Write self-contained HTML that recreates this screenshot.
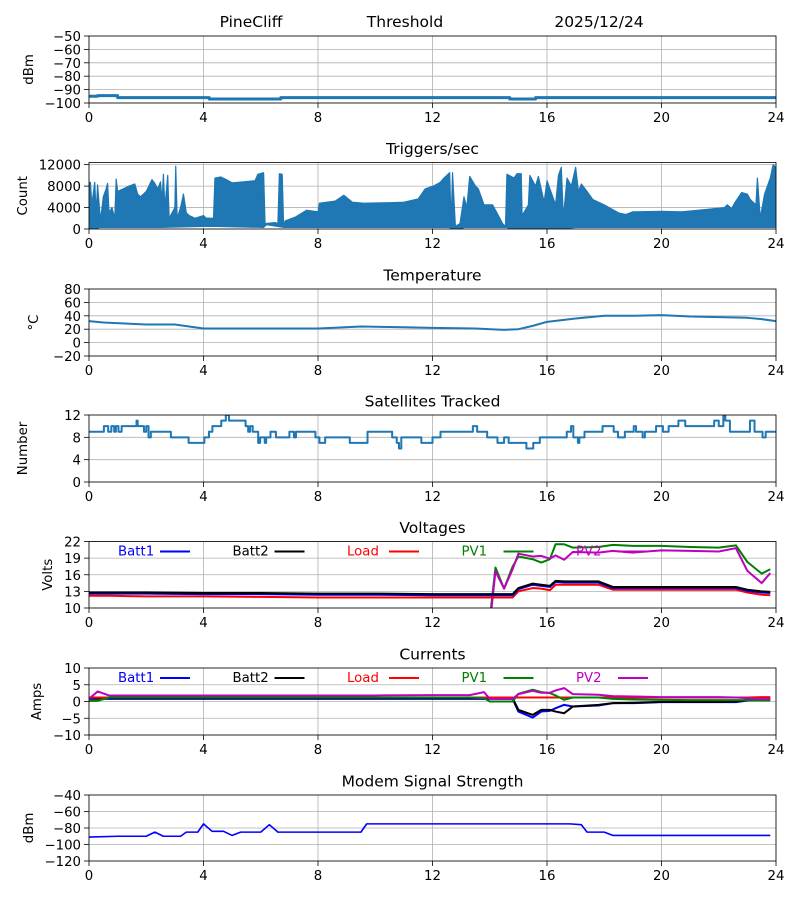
<!DOCTYPE html>
<html><head><meta charset="utf-8"><style>
body{margin:0;background:#fff}
svg{display:block;font-family:"DejaVu Sans","Liberation Sans",sans-serif}
</style></head><body>
<svg id="fig" width="800" height="900" viewBox="0 0 800 900"></svg>
<script>
// ---- data ----
const sigT=[0,0.3,0.8,1,4,4.2,6.5,6.7,14.5,14.7,15.4,15.6,24];
const sigV=[-95,-94.5,-94.5,-96,-96,-97,-97,-96,-96,-97,-97,-96,-96];
const trigT=[0,0.05,0.1,0.2,0.25,0.3,0.4,0.5,0.6,0.65,0.7,0.8,0.9,0.95,1.0,1.2,1.4,1.5,1.6,1.7,1.8,2.0,2.2,2.3,2.4,2.5,2.55,2.6,2.65,2.75,2.8,3.0,3.03,3.08,3.2,3.3,3.4,3.5,3.7,4.0,4.1,4.35,4.4,4.6,4.8,5.0,5.4,5.8,5.9,6.1,6.15,6.5,6.6,6.65,6.75,6.8,6.85,7.2,7.6,8.0,8.05,8.6,8.9,9.2,9.6,10.5,11.0,11.5,11.75,12.03,12.27,12.4,12.6,12.65,12.7,12.8,12.96,13.1,13.2,13.3,13.5,13.6,13.8,14.1,14.3,14.45,14.55,14.6,14.85,14.95,15.1,15.13,15.35,15.4,15.6,15.7,15.9,16.0,16.3,16.4,16.5,16.57,16.7,16.85,17.0,17.1,17.2,17.4,17.6,18.0,18.5,18.75,19.0,20.0,20.7,21.3,22.2,22.3,22.45,22.55,22.8,23.0,23.1,23.3,23.35,23.45,23.6,23.8,23.9,24.0];
const trigHi=[8700,8700,4500,8700,3000,8200,1500,6000,7500,8500,3000,4000,2000,9300,7000,7500,8000,8200,8400,6500,6000,7000,9200,8500,7500,8800,5000,10200,4000,10000,2000,4000,11700,2000,4000,6500,3000,2500,2000,2500,2000,2000,9500,9700,9200,8600,8800,9000,10200,10500,1000,1200,1000,10300,10200,300,1500,2200,3500,3200,4800,5200,6300,5000,4800,4900,5000,5600,7500,8000,8700,9500,10500,800,10500,500,1000,6000,4000,9800,8000,7500,4500,4500,2500,1000,500,10200,9500,10300,10300,2500,4500,10000,8000,9800,5000,9000,4500,10000,11500,2000,9500,8000,11500,7000,8400,7000,5500,4500,3000,2700,3200,3300,3200,3500,4000,4500,3800,4800,6800,6500,5500,4500,9500,2000,6500,9500,12000,11500];
const trigLoT=[0,0.3,0.35,2.5,4.2,6.1,6.2,6.8,7,12.6,12.65,13,13.1,14.6,14.7,16.5,17,24];
const trigLoV=[0,0,300,300,500,300,800,300,300,300,0,0,300,300,0,0,300,300];
const tempT=[0,0.5,2,3,3.5,4,8,8.5,9.5,11,12,13.5,14.5,15,15.5,16,17,18,19,20,21,22,23,23.5,24];
const tempV=[32,30,27,27,24,21,21,22,24,23,22,21,19,20,25,31,36,40,40,41,39,38,37,35,32];
const satT=[0,0.52,0.67,0.78,0.88,0.94,1.03,1.14,1.66,1.70,1.92,2.0,2.08,2.16,2.86,3.48,4.03,4.19,4.31,4.62,4.78,4.89,4.97,5.47,5.56,5.63,5.72,5.91,5.98,6.14,6.19,6.34,6.53,7.0,7.16,7.23,7.91,8.05,8.25,9.11,9.73,10.59,10.75,10.83,10.91,11.61,12.0,12.28,13.41,13.56,13.91,14.27,14.5,14.66,15.28,15.52,15.75,16.69,16.84,16.92,17.08,17.13,17.31,17.94,18.33,18.48,18.72,19.03,19.11,19.34,19.42,19.81,20.05,20.25,20.59,20.83,21.84,22.0,22.16,22.23,22.39,23.09,23.25,23.53,23.64,24];
const satV=[9,10,9,10,9,10,9,10,11,10,9,10,8,9,8,7,8,9,10,11,12,11,11,10,9,10,9,7,8,7,8,9,8,9,8,9,8,7,8,7,9,8,7,6,8,7,8,9,10,9,8,7,8,7,6,7,8,9,10,8,7,8,9,10,9,8,9,10,9,8,9,10,9,10,11,10,11,10,12,11,9,11,9,8,9,9];
const pT=[0,0.3,0.7,2,4,6,8,10,12,13.3,13.8,14.0,14.2,14.5,14.8,15.0,15.5,15.8,16.1,16.3,16.6,16.9,17.8,18.3,19,20,21,22,22.6,23,23.5,23.8];
const batt1V=[12.6,12.6,12.6,12.6,12.5,12.5,12.4,12.4,12.3,12.3,12.3,12.3,12.3,12.3,12.3,13.4,14.2,14.0,13.8,14.7,14.6,14.6,14.6,13.6,13.6,13.6,13.6,13.6,13.6,13.1,12.8,12.7];
const batt2V=[12.8,12.8,12.8,12.8,12.7,12.7,12.6,12.6,12.5,12.5,12.5,12.5,12.5,12.5,12.5,13.6,14.4,14.2,14.0,14.9,14.8,14.8,14.8,13.8,13.8,13.8,13.8,13.8,13.8,13.3,13.0,12.9];
const loadV=[12.2,12.2,12.2,12.1,12.1,12.0,11.9,11.9,11.9,11.9,11.9,11.9,11.9,11.9,11.9,13.0,13.6,13.5,13.2,14.2,14.2,14.2,14.2,13.3,13.3,13.3,13.3,13.3,13.3,12.8,12.4,12.3];
const pv1V=[0,0,0,0,0,0,0,0,0,0,0,8,17.3,13.5,17.5,19.3,18.8,18.2,18.8,21.5,21.5,20.9,21.0,21.4,21.2,21.2,21.0,20.9,21.3,18.3,16.2,17.0];
const pv2V=[0,0,0,0,0,0,0,0,0,0,0,7,16.6,13.5,17,19.8,19.3,19.4,18.9,19.5,18.7,20.1,20.0,20.3,20.0,20.4,20.3,20.2,20.8,16.7,14.5,16.3];
const batt1I=[0.8,0.8,0.8,0.8,0.8,0.8,0.8,0.8,0.8,0.8,0.8,0.8,0.8,0.8,0.8,-3.0,-4.8,-3.0,-2.8,-2.0,-1.0,-1.5,-1.2,-0.5,-0.5,-0.2,-0.2,-0.2,-0.2,0.3,0.5,0.6];
const batt2I=[1.0,1.0,1.0,1.0,1.0,1.0,1.0,1.0,1.0,1.0,1.0,1.0,1.0,1.0,1.0,-2.5,-4.0,-2.5,-2.5,-3.0,-3.5,-1.5,-1.0,-0.5,-0.4,-0.1,-0.1,-0.1,0.0,0.5,0.9,1.1];
const loadI=[1.2,1.2,1.2,1.2,1.2,1.2,1.2,1.2,1.2,1.2,1.2,1.2,1.2,1.2,1.2,1.2,1.2,1.2,1.2,1.2,1.2,1.2,1.2,1.2,1.2,1.2,1.2,1.2,1.2,1.2,1.3,1.3];
const pv1I=[0.2,0.2,1.2,1.2,1.2,1.2,1.2,1.2,1.2,1.2,1.0,0,0,0,0,2.3,3.5,2.8,2.5,1.8,0.5,1.2,1.2,0.8,0.6,0.5,0.4,0.4,0.4,0.4,0.3,0.3];
const pv2I=[0.8,3.0,1.8,1.8,1.8,1.8,1.8,1.8,1.9,1.9,2.8,0.8,0.8,0.8,0.8,2.2,3.2,2.6,2.6,3.3,4.0,2.2,2.0,1.6,1.5,1.3,1.3,1.3,1.2,1.0,0.8,0.8];
const modT=[0,1,2,2.3,2.6,3.2,3.4,3.8,4.0,4.3,4.7,5,5.3,6,6.3,6.6,9.5,9.7,16.8,17.2,17.4,18,18.3,23.8];
const modV=[-91,-90,-90,-85,-90,-90,-85,-85,-75,-84,-84,-89,-85,-85,-76,-85,-85,-75,-75,-76,-85,-85,-89,-89];
const xTicks=[0,4,8,12,16,20,24];
const legendNames=["Batt1","Batt2","Load","PV1","PV2"];
const legendColors=["#0000ff","#000000","#ff0000","#008000","#bf00bf"];

// ---- drawing ----
const NS="http://www.w3.org/2000/svg";
const svg=document.getElementById('fig');
const X0=89,X1=776;
function el(tag,attrs,parent){const e=document.createElementNS(NS,tag);for(const k in attrs)e.setAttribute(k,attrs[k]);(parent||svg).appendChild(e);return e;}
function txt(s,x,y,attrs,parent){const e=el('text',Object.assign({x:x,y:y,'font-size':13.3,fill:'#000'},attrs),parent);e.textContent=s;return e;}
const sx=t=>X0+(X1-X0)*t/24;

function panel(name,top,h,ymin,ymax,yTicks,title,ylabel,ylabX){
  const g=el('g',{});
  
  
  const sy=v=>top+h-(v-ymin)/(ymax-ymin)*h;
  const clipId='clip-'+name;
  const cp=el('clipPath',{id:clipId},g);el('rect',{x:X0,y:top,width:X1-X0,height:h},cp);
  const grid=el('g',{stroke:'#b0b0b0','stroke-width':0.8},g);
  
  xTicks.forEach(t=>el('line',{x1:sx(t),x2:sx(t),y1:top,y2:top+h},grid));
  yTicks.forEach(v=>el('line',{x1:X0,x2:X1,y1:sy(v),y2:sy(v)},grid));
  const xa=el('g',{},g);
  xTicks.forEach(t=>{el('line',{x1:sx(t),x2:sx(t),y1:top+h,y2:top+h+5,stroke:'#000','stroke-width':0.8},xa);
    txt(String(t),sx(t),top+h+19,{'text-anchor':'middle'},xa);});
  const ya=el('g',{},g);
  yTicks.forEach(v=>{el('line',{x1:X0-5,x2:X0,y1:sy(v),y2:sy(v),stroke:'#000','stroke-width':0.8},ya);
    txt(String(v).replace('-','\u2212'),X0-8,sy(v)+5,{'text-anchor':'end'},ya);});
  if(title){const tt=txt(title,(X0+X1)/2,top-8.5,{'text-anchor':'middle','font-size':15.5},g);
    }
  const yl=txt(ylabel,0,0,{'text-anchor':'middle',transform:`translate(${ylabX},${top+h/2}) rotate(-90)`},g);
  
  const plot=el('g',{'clip-path':`url(#${clipId})`},g);
  el('rect',{x:X0,y:top,width:X1-X0,height:h,fill:'none',stroke:'#000','stroke-width':0.8},g);
  return {sy,plot,g,top};
}
function line(p,T,V,color,w,nm,step){
  let d='';
  T.forEach((t,i)=>{const x=sx(t),y=p.sy(V[i]);
    if(i===0)d+=`M${x},${y}`;else if(step)d+=`H${x}V${y}`;else d+=`L${x},${y}`;});
  const e=el('path',{d:d,fill:'none',stroke:color,'stroke-width':w,'stroke-linejoin':'round'},p.plot);
  
  
  return e;
}
function legend(p,name){
  legendNames.forEach((n,i)=>{
    const lg=el('g',{},p.g);
    
    
    const bx=118+i*114.5;
    txt(n,bx,p.top+14,{fill:legendColors[i]},lg);
    el('line',{x1:bx+42,x2:bx+72,y1:p.top+10,y2:p.top+10,stroke:legendColors[i],'stroke-width':2},lg);
  });
}
const C='#1f77b4';
// header
[["PineCliff",251],["Threshold",405],["2025/12/24",599]].forEach(([s,x],i)=>{
  const h=txt(s,x,27,{'text-anchor':'middle','font-size':15.5});
  
  
});
// 1 signal
const p1=panel('signal',36,67,-100,-50,[-50,-60,-70,-80,-90,-100],null,'dBm',33);
line(p1,sigT,sigV,C,3,'signal-line',true);
// 2 triggers
const p2=panel('triggers',162.5,66.5,0,12400,[0,4000,8000,12000],'Triggers/sec','Count',27);
{let d='';trigT.forEach((t,i)=>{d+=(i?'L':'M')+sx(t)+','+p2.sy(trigHi[i]);});
 for(let i=trigLoT.length-1;i>=0;i--)d+='L'+sx(trigLoT[i])+','+p2.sy(trigLoV[i]);d+='Z';
 const a=el('path',{d:d,fill:C,stroke:C,'stroke-width':1.2,'stroke-linejoin':'round'},p2.plot);
 
 }
// 3 temperature
const p3=panel('temperature',289,67,-20,80,[-20,0,20,40,60,80],'Temperature','\u00b0C',38);
line(p3,tempT,tempV,C,2,'temperature-line',false);
// 4 satellites
const p4=panel('satellites',415,67,0,12,[0,4,8,12],'Satellites Tracked','Number',27);
line(p4,satT,satV,C,2,'satellites-line',true);
// 5 voltages
const p5=panel('voltages',541.5,66.5,10,22,[10,13,16,19,22],'Voltages','Volts',52);
line(p5,pT,pv1V,'#008000',2,'pv1-voltage-line');
line(p5,pT,pv2V,'#bf00bf',2,'pv2-voltage-line');
line(p5,pT,loadV,'#ff0000',2,'load-voltage-line');
line(p5,pT,batt1V,'#0000ff',2,'batt1-voltage-line');
line(p5,pT,batt2V,'#000000',2,'batt2-voltage-line');
legend(p5,'voltages');
// 6 currents
const p6=panel('currents',668,67,-10,10,[-10,-5,0,5,10],'Currents','Amps',41);
line(p6,pT,batt1I,'#0000ff',2,'batt1-current-line');
line(p6,pT,batt2I,'#000000',2,'batt2-current-line');
line(p6,pT,loadI,'#ff0000',2,'load-current-line');
line(p6,pT,pv1I,'#008000',2,'pv1-current-line');
line(p6,pT,pv2I,'#bf00bf',2,'pv2-current-line');
legend(p6,'currents');
// 7 modem
const p7=panel('modem',795,66,-120,-40,[-120,-100,-80,-60,-40],'Modem Signal Strength','dBm',33);
line(p7,modT,modV,'#0000ff',1.6,'modem-line',false);
</script>
</body></html>
